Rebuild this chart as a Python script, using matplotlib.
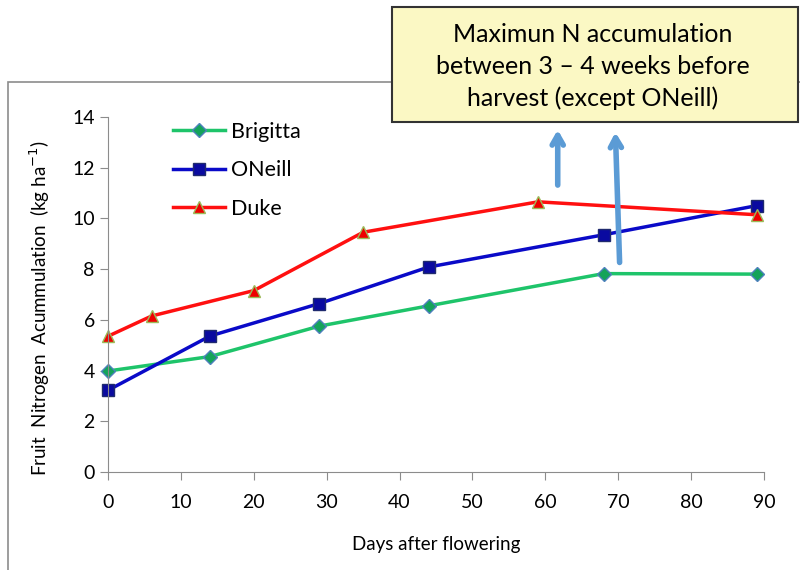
import matplotlib.pyplot as plt
from matplotlib.patches import Rectangle

plt.rcParams['font.family'] = ['Lato', 'DejaVu Sans']

# data
brigitta_days = [0, 14, 29, 44, 68, 89]
brigitta_n = [3.98, 4.55, 5.75, 6.55, 7.82, 7.8]
oneill_days = [0, 14, 29, 44, 68, 89]
oneill_n = [3.22, 5.36, 6.64, 8.08, 9.35, 10.5]
duke_days = [0, 6, 20, 35, 59, 89]
duke_n = [5.35, 6.15, 7.15, 9.45, 10.65, 10.14]

fig = plt.figure(figsize=(8, 5.7), dpi=100)
ax = fig.add_axes([0.135, 0.172, 0.82, 0.623])

# outer chart frame
fig.add_artist(Rectangle((0.01, -0.02), 1.2, 0.876, transform=fig.transFigure,
                         fill=False, edgecolor='#8c8c8c', lw=1.2, zorder=0))

ax.plot(brigitta_days, brigitta_n, color='#1ec46a', lw=2.5, marker='D', ms=7,
        markerfacecolor='#14a35a', markeredgecolor='#4f81bd', label='Brigitta', clip_on=False)
ax.plot(oneill_days, oneill_n, color='#0a0ac8', lw=2.5, marker='s', ms=8,
        markerfacecolor='#0a0aa0', markeredgecolor='#1f2a6e', label='ONeill', clip_on=False)
ax.plot(duke_days, duke_n, color='#ff1010', lw=2.5, marker='^', ms=9,
        markerfacecolor='#ee0000', markeredgecolor='#9bbb59', label='Duke', clip_on=False)

ax.set_xlim(0, 90)
ax.set_ylim(0, 14)
ax.set_xticks(range(0, 91, 10))
ax.set_yticks(range(0, 15, 2))
for s in ['top', 'right']:
    ax.spines[s].set_visible(False)
for s in ['left', 'bottom']:
    ax.spines[s].set_color('#8c8c8c')
ax.tick_params(axis='both', colors='#8c8c8c', labelcolor='black', labelsize=14, length=6, direction='out')
ax.tick_params(axis='x', pad=10)
ax.set_xlabel('Days after flowering', fontsize=13.5, labelpad=18)
ax.set_ylabel('Fruit  Nitrogen  Acummulation  (kg ha$^{-1}$)', fontsize=13.5)
ax.yaxis.set_label_coords(-0.085, 0.46)

ax.legend(loc='upper left', bbox_to_anchor=(0.07, 1.04), frameon=False, fontsize=15.5,
          handlelength=2.4, labelspacing=0.85, handletextpad=0.3)

# note box
fig.add_artist(Rectangle((0.49, 0.786), 0.508, 0.202, transform=fig.transFigure,
                         facecolor='#fbf8c4', edgecolor='#333333', lw=1.5, zorder=3))
fig.text(0.741, 0.883, 'Maximun N accumulation\nbetween 3 \u2013 4 weeks before\nharvest (except ONeill)',
         ha='center', va='center', fontsize=18, linespacing=1.45, zorder=4)

arrow = dict(arrowstyle='->, head_length=0.7, head_width=0.4', color='#5b9bd5', lw=4)
ax.annotate('', xy=(61.7, 13.6), xytext=(61.7, 11.2), arrowprops=arrow, annotation_clip=False)
ax.annotate('', xy=(69.6, 13.5), xytext=(70.2, 8.15), arrowprops=arrow, annotation_clip=False)

fig.savefig('out.png', dpi=100)
